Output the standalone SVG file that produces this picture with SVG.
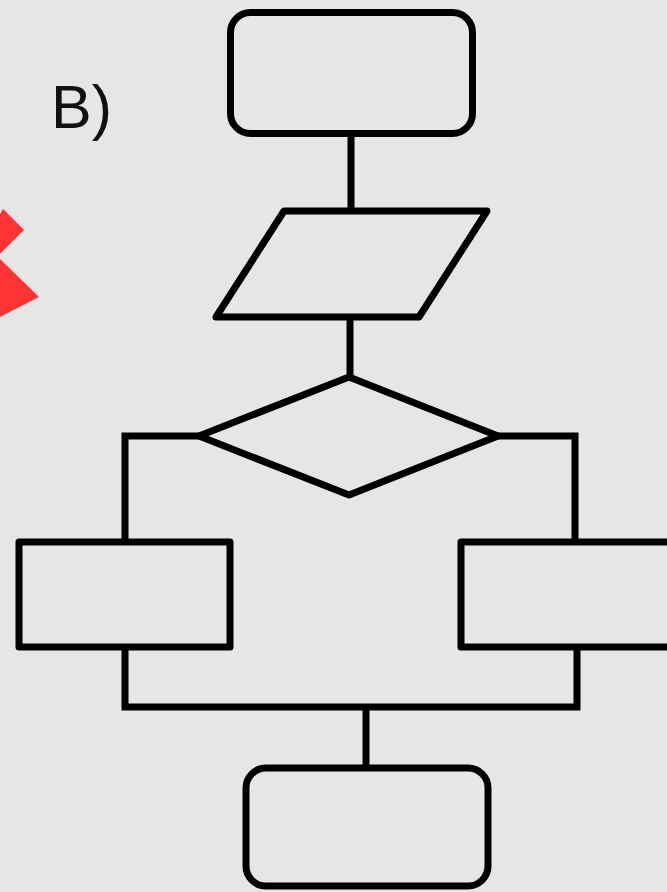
<svg xmlns="http://www.w3.org/2000/svg" width="667" height="892" viewBox="0 0 667 892">
<style>
.s{fill:none;stroke:#000;stroke-width:7;stroke-linejoin:round}
.c{fill:none;stroke:#000;stroke-width:7;stroke-linecap:square}
.t{font-family:"Liberation Sans",Arial,sans-serif;font-size:61px;fill:#111}
</style>
<rect width="667" height="892" fill="#e6e6e6"/>
<g id="red-mark" fill="#ff3333">
<polygon points="0,214 3,209 24,230 0,254"/>
<polygon points="0,259 39,297 0,317"/>
</g>
<text class="t" x="51" y="128">B)</text>
<g id="connectors">
<line class="c" x1="351" y1="137" x2="351" y2="208"/>
<line class="c" x1="350" y1="320" x2="350" y2="375"/>
<polyline class="c" points="197,436 125,436 125,539"/>
<polyline class="c" points="500,436 575,436 575,539"/>
<polyline class="c" points="125,651 125,707 577,707 577,651"/>
<line class="c" x1="366" y1="710" x2="366" y2="765"/>
</g>
<g id="start"><rect class="s" x="230.5" y="12.5" width="242" height="121" rx="20"/></g>
<g id="input"><polygon class="s" points="284,211 487,211 419,317 216,317"/></g>
<g id="decision"><polygon class="s" points="349,377 498,436 349,495 199,436"/></g>
<g id="left-process"><rect class="s" x="19" y="542" width="211" height="105"/></g>
<g id="right-process"><rect class="s" x="461" y="542" width="220" height="105"/></g>
<g id="end"><rect class="s" x="246" y="768" width="242" height="118" rx="20"/></g>
</svg>
